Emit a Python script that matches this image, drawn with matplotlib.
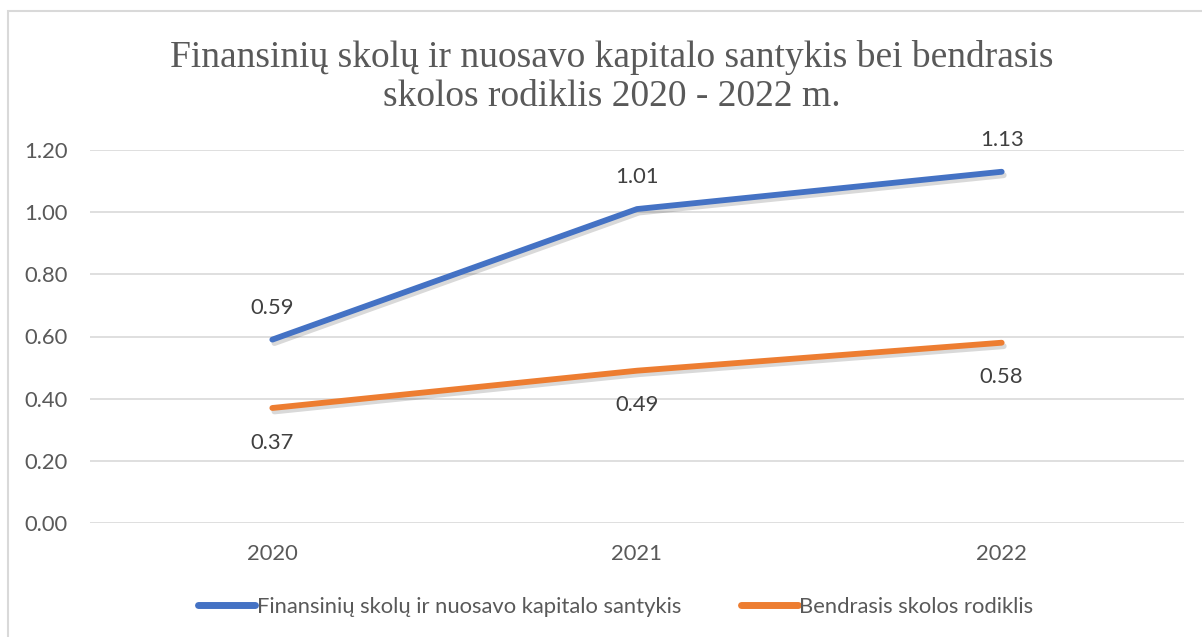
import matplotlib
matplotlib.use("Agg")
import matplotlib.pyplot as plt
import matplotlib.patheffects as pe
from matplotlib.patches import Rectangle

# data
years = ['2020', '2021', '2022']
finansiniu = [0.59, 1.01, 1.13]
bendrasis = [0.37, 0.49, 0.58]
yticks = [0.0, 0.2, 0.4, 0.6, 0.8, 1.0, 1.2]

title = "Finansinių skolų ir nuosavo kapitalo santykis bei bendrasis\nskolos rodiklis 2020 - 2022 m."
label_fin = "Finansinių skolų ir nuosavo kapitalo santykis"
label_ben = "Bendrasis skolos rodiklis"

blue = '#4472C4'
orange = '#ED7D31'
txt = '#595959'
fs = 15.8

plt.rcParams['font.family'] = ['Lato', 'DejaVu Sans']

fig = plt.figure(figsize=(12.02, 6.37), dpi=100)
ax = fig.add_axes([90 / 1202, 1 - 523 / 637, 1094 / 1202, 373 / 637])

x = list(range(len(years)))
shadow = [pe.SimpleLineShadow(offset=(1.5, -2.5), shadow_color='#000000', alpha=0.15, rho=1), pe.Normal()]
ax.plot(x, finansiniu, color=blue, lw=4.2, solid_capstyle='round', label=label_fin, path_effects=shadow, zorder=3)
ax.plot(x, bendrasis, color=orange, lw=4.2, solid_capstyle='round', label=label_ben, path_effects=shadow, zorder=3)

for xi, v in zip(x, finansiniu):
    ax.annotate("{:.2f}".format(v), (xi, v), xytext=(0, 23), textcoords='offset points',
                ha='center', va='center', fontsize=fs, color='#404040')
for xi, v in zip(x, bendrasis):
    ax.annotate("{:.2f}".format(v), (xi, v), xytext=(0, -25), textcoords='offset points',
                ha='center', va='center', fontsize=fs, color='#404040')

ax.set_xlim(-0.5, 2.5)
ax.set_ylim(0, 1.2)
ax.set_yticks(yticks)
ax.set_yticklabels(["{:.2f}".format(t) for t in yticks])
ax.set_xticks(x)
ax.set_xticklabels(years)
ax.tick_params(axis='both', length=0, labelsize=fs, colors=txt)
ax.tick_params(axis='y', pad=16)
ax.tick_params(axis='x', pad=15)
ax.grid(axis='y', color='#D9D9D9', lw=1.2)
ax.set_axisbelow(True)
for s in ax.spines.values():
    s.set_visible(False)

fig.text(612 / 1202, 1 - 77 / 637, title, ha='center', va='center', fontsize=27,
         family='Liberation Serif', color=txt, linespacing=1.18)

leg = fig.legend(loc='center', bbox_to_anchor=(616 / 1202, 1 - 607 / 637), ncol=2, frameon=False,
                 fontsize=fs, handlelength=2.6, handletextpad=0.05, columnspacing=2.75)
for t in leg.get_texts():
    t.set_color(txt)
for h in leg.get_lines():
    h.set_path_effects([])
    h.set_linewidth(5)

fig.patches.append(Rectangle((8 / 1202, -0.05), 1.2, 1 - 11 / 637 + 0.05, transform=fig.transFigure,
                             fill=False, edgecolor='#D9D9D9', lw=1.5))

fig.savefig('out.png', dpi=100, facecolor='white')
